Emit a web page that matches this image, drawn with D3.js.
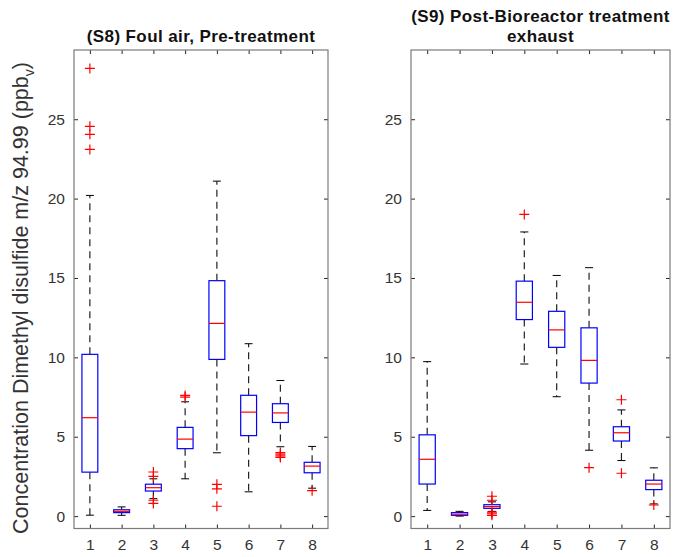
<!DOCTYPE html>
<html>
<head>
<meta charset="utf-8">
<script src="https://cdn.jsdelivr.net/npm/d3@7"></script>
<style>
body { margin: 0; background: #fff; }
svg { display: block; font-family: "Liberation Sans", Arial, sans-serif; }
</style>
</head>
<body>
<svg id="viz" width="674" height="557"></svg>
<script>
var groups = ["1", "2", "3", "4", "5", "6", "7", "8"]
var yTicks = [0, 5, 10, 15, 20, 25]

// (S8) Foul air, pre-treatment
var s8Lower  = [0.06, 0.05, 1.1, 2.35, 3.99, 1.53, 4.37, 1.76]
var s8Q1     = [2.77, 0.22, 1.58, 4.25, 9.87, 5.07, 5.9, 2.73]
var s8Median = [6.2, 0.3, 1.79, 4.85, 12.14, 6.55, 6.5, 3.15]
var s8Q3     = [10.19, 0.4, 2.01, 5.59, 14.83, 7.61, 7.08, 3.39]
var s8Upper  = [20.2, 0.58, 2.35, 7.2, 21.1, 10.86, 8.54, 4.39]
var s8Outliers = [[28.2, 24.55, 24.05, 23.1], [], [2.78, 2.5, 1.0, 0.8], [7.6, 7.5],
                  [2.0, 1.72, 0.62], [], [4.0, 3.9, 3.8, 3.7], [1.6]]

// (S9) Post-bioreactor treatment exhaust
var s9Lower  = [0.36, 0.0, 0.3, 9.58, 7.52, 4.15, 3.5, 0.77]
var s9Q1     = [2.02, 0.05, 0.49, 12.38, 10.63, 8.38, 4.73, 1.67]
var s9Median = [3.58, 0.12, 0.6, 13.47, 11.73, 9.81, 5.25, 2.02]
var s9Q3     = [5.12, 0.22, 0.72, 14.8, 12.9, 11.86, 5.63, 2.26]
var s9Upper  = [9.73, 0.3, 0.9, 17.9, 15.16, 15.65, 6.69, 3.04]
var s9Outliers = [[], [], [1.25, 1.0, 0.25, 0.15, 0.05], [19.0], [], [3.05], [7.33, 2.7], [0.7]]

let plotTop = 50, plotBottom = 528.5
let tickLen = 4
let viz = d3.select("#viz")

let y = d3.scaleLinear().domain([-0.78, 29.36]).range([plotBottom, plotTop])

function buildRows(lower, q1, median, q3, upper, outliers) {
    return groups.map((g, i) => ({
        group: g, lower: lower[i], q1: q1[i], median: median[i],
        q3: q3[i], upper: upper[i], outliers: outliers[i]
    }))
}

function drawPanel(left, right, rows, titleLines) {
    let x = d3.scalePoint().domain(groups).range([left, right]).padding(0.5)
    let step = x.step()
    let boxW = step * 0.5
    let capW = step * 0.25
    let g = viz.append("g")

    // ticks inside on all four sides
    g.append("g").attr("transform", `translate(${left},0)`)
        .call(d3.axisLeft(y).tickValues(yTicks).tickSizeInner(-tickLen).tickSizeOuter(0).tickPadding(9))
    g.append("g").attr("transform", `translate(${right},0)`)
        .call(d3.axisRight(y).tickValues(yTicks).tickSizeInner(-tickLen).tickSizeOuter(0).tickFormat(""))
    g.append("g").attr("transform", `translate(0,${plotBottom})`)
        .call(d3.axisBottom(x).tickSizeInner(-tickLen).tickSizeOuter(0).tickPadding(10))
    g.append("g").attr("transform", `translate(0,${plotTop})`)
        .call(d3.axisTop(x).tickSizeInner(-tickLen).tickSizeOuter(0).tickFormat(""))

    g.selectAll(".domain").remove()
    g.selectAll(".tick line").attr("stroke", "#262626")
    g.selectAll(".tick text").attr("fill", "#333").attr("font-size", 15.5)

    g.append("rect")
        .attr("x", left).attr("y", plotTop)
        .attr("width", right - left).attr("height", plotBottom - plotTop)
        .attr("fill", "none").attr("stroke", "#7a7a7a").attr("stroke-width", 1.2)

    let box = g.append("g").selectAll("g").data(rows).enter().append("g")

    // dashed whiskers
    box.append("line")
        .attr("x1", d => x(d.group)).attr("x2", d => x(d.group))
        .attr("y1", d => y(d.q3)).attr("y2", d => y(d.upper))
        .attr("stroke", "#222").attr("stroke-width", 1.2).attr("stroke-dasharray", "7,5")
    box.append("line")
        .attr("x1", d => x(d.group)).attr("x2", d => x(d.group))
        .attr("y1", d => y(d.q1)).attr("y2", d => y(d.lower))
        .attr("stroke", "#222").attr("stroke-width", 1.2).attr("stroke-dasharray", "7,5")
    // caps
    box.append("line")
        .attr("x1", d => x(d.group) - capW / 2).attr("x2", d => x(d.group) + capW / 2)
        .attr("y1", d => y(d.upper)).attr("y2", d => y(d.upper))
        .attr("stroke", "#000")
    box.append("line")
        .attr("x1", d => x(d.group) - capW / 2).attr("x2", d => x(d.group) + capW / 2)
        .attr("y1", d => y(d.lower)).attr("y2", d => y(d.lower))
        .attr("stroke", "#000")
    // boxes
    box.append("rect")
        .attr("x", d => x(d.group) - boxW / 2).attr("width", boxW)
        .attr("y", d => y(d.q3)).attr("height", d => y(d.q1) - y(d.q3))
        .attr("fill", "#fff").attr("stroke", "#0000ff").attr("stroke-width", 1.2)
    // medians
    box.append("line")
        .attr("x1", d => x(d.group) - boxW / 2).attr("x2", d => x(d.group) + boxW / 2)
        .attr("y1", d => y(d.median)).attr("y2", d => y(d.median))
        .attr("stroke", "#ff0000").attr("stroke-width", 1.2)
    // outliers
    box.selectAll("path.out")
        .data(d => d.outliers.map(v => ({group: d.group, value: v})))
        .enter().append("path")
        .attr("class", "out")
        .attr("d", d => {
            let cx = x(d.group), cy = y(d.value), r = 5
            return `M${cx - r},${cy}H${cx + r}M${cx},${cy - r}V${cy + r}`
        })
        .attr("stroke", "#ff0000").attr("stroke-width", 1.2)

    let cx = (left + right) / 2
    let title = g.append("text")
        .attr("text-anchor", "middle")
        .attr("font-weight", "bold").attr("font-size", 17).attr("letter-spacing", 0.4)
        .attr("fill", "#111")
    titleLines.forEach((t, i) => {
        title.append("tspan").attr("x", cx)
            .attr("y", plotTop - 8 - (titleLines.length - 1 - i) * 20)
            .text(t)
    })
}

drawPanel(74, 328, buildRows(s8Lower, s8Q1, s8Median, s8Q3, s8Upper, s8Outliers),
    ["(S8) Foul air, Pre-treatment"])
drawPanel(411, 670, buildRows(s9Lower, s9Q1, s9Median, s9Q3, s9Upper, s9Outliers),
    ["(S9) Post-Bioreactor treatment", "exhaust"])

let ylab = viz.append("text")
    .attr("transform", "translate(28,298) rotate(-90)")
    .attr("text-anchor", "middle")
    .attr("font-size", 21.5).attr("fill", "#333")
ylab.append("tspan").text("Concentration Dimethyl disulfide m/z 94.99 (ppb")
ylab.append("tspan").attr("font-size", 14).attr("dy", 6).text("v")
ylab.append("tspan").attr("dy", -6).text(")")
</script>
</body>
</html>
